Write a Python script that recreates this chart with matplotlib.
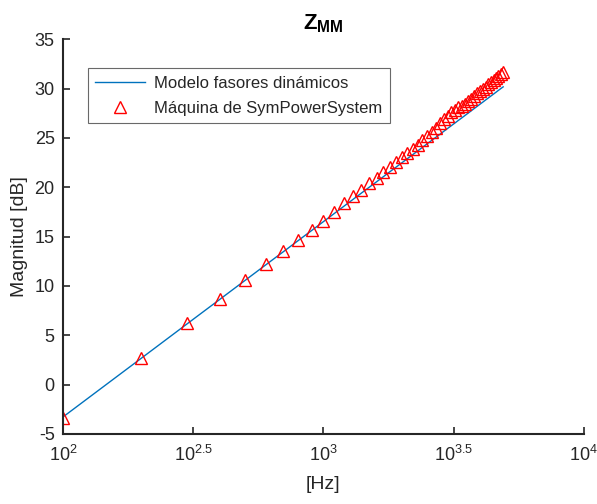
import numpy as np
import matplotlib
matplotlib.use("Agg")
import matplotlib.pyplot as plt

plt.rcParams['font.family'] = ['Liberation Sans', 'DejaVu Sans']
plt.rcParams['mathtext.fontset'] = 'custom'
plt.rcParams['mathtext.rm'] = 'Liberation Sans'
plt.rcParams['mathtext.it'] = 'Liberation Sans'
plt.rcParams['mathtext.bf'] = 'Liberation Sans:bold'
plt.rcParams['axes.unicode_minus'] = False

# Frequencies [Hz]
freq = [100, 200, 300, 400, 500, 600, 700, 800, 900, 1000,
        1100, 1200, 1300, 1400, 1500, 1600, 1700, 1800, 1900, 2000,
        2100, 2200, 2300, 2400, 2500, 2600, 2700, 2800, 2900, 3000,
        3100, 3200, 3300, 3400, 3500, 3600, 3700, 3800, 3900, 4000,
        4100, 4200, 4300, 4400, 4500, 4600, 4700, 4800, 4900]

# Modelo fasores dinamicos [dB]
mag_model = [-3.28, 2.68, 6.17, 8.64, 10.56, 12.13, 13.45, 14.60, 15.61, 16.52,
             17.34, 18.09, 18.78, 19.42, 20.01, 20.56, 21.08, 21.58, 22.04, 22.48,
             22.90, 23.30, 23.68, 24.05, 24.40, 24.74, 25.06, 25.37, 25.68, 25.97,
             26.25, 26.52, 26.79, 27.04, 27.29, 27.53, 27.77, 28.00, 28.22, 28.44,
             28.65, 28.86, 29.06, 29.26, 29.45, 29.64, 29.83, 30.01, 30.18]

# Maquina de SymPowerSystem [dB]
mag_sps = [-3.35, 2.72, 6.22, 8.70, 10.62, 12.20, 13.52, 14.68, 15.70, 16.62,
           17.54, 18.39, 19.08, 19.77, 20.41, 20.96, 21.53, 22.08, 22.54, 23.03,
           23.50, 23.90, 24.33, 24.75, 25.15, 25.59, 26.01, 26.47, 26.88, 27.27,
           27.60, 27.87, 28.09, 28.29, 28.49, 28.73, 28.97, 29.25, 29.52, 29.74,
           30.00, 30.21, 30.46, 30.66, 30.85, 31.09, 31.28, 31.51, 31.73]

x_ticks = [2, 2.5, 3, 3.5, 4]
x_ticklabels = ['$10^{2}$', '$10^{2.5}$', '$10^{3}$', '$10^{3.5}$', '$10^{4}$']
y_ticks = [-5, 0, 5, 10, 15, 20, 25, 30, 35]

dark = '#262626'

fig = plt.figure(figsize=(5.97, 5.04), dpi=100)
ax = fig.add_axes([0.1055, 0.139, 0.8725, 0.783])

lf = np.log10(freq)
ax.plot(lf, mag_model, color='#0072BD', lw=1.0, label='Modelo fasores dinámicos')
ax.plot(lf, mag_sps, ls='none', marker='^', ms=9, mfc='none', mec='red', mew=1.0,
        label='Máquina de SymPowerSystem')

ax.set_xlim(2, 4)
ax.set_ylim(-5, 35)
ax.set_xticks(x_ticks)
ax.set_xticklabels(x_ticklabels)
ax.set_yticks(y_ticks)
ax.tick_params(direction='in', length=5, width=1.2, colors=dark, labelsize=13, pad=6)
ax.tick_params(axis='x', pad=8)
for s in ['top', 'right']:
    ax.spines[s].set_visible(False)
for s in ['left', 'bottom']:
    ax.spines[s].set_color(dark)
    ax.spines[s].set_linewidth(1.5)

ax.set_xlabel('[Hz]', fontsize=14, color=dark, labelpad=8)
ax.set_ylabel('Magnitud [dB]', fontsize=14, color=dark, labelpad=5)
ax.set_title('$\\mathbf{Z_{MM}}$', fontsize=16, color='black', pad=7)

leg = ax.legend(loc='upper left', bbox_to_anchor=(0.048, 0.927), fontsize=12,
                frameon=True, fancybox=False, edgecolor='#444444',
                handlelength=3.0, borderpad=0.45, labelspacing=0.6, handletextpad=0.5,
                borderaxespad=0)
leg.get_frame().set_linewidth(0.8)
for t in leg.get_texts():
    t.set_color(dark)

fig.savefig('out.png', dpi=100)
